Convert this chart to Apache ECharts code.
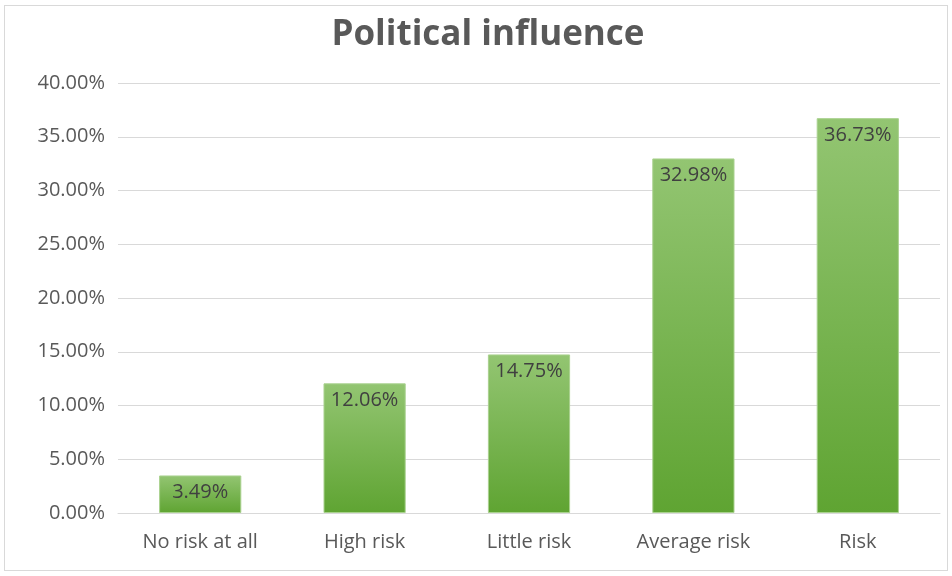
<!DOCTYPE html>
<html><head><meta charset="utf-8">
<script src="https://cdn.jsdelivr.net/npm/echarts@6/dist/echarts.min.js"></script>
<style>html,body{margin:0;padding:0;background:#fff}#c{width:952px;height:576px}
#frame{position:absolute;left:4px;top:5px;width:944px;height:566px;border:1px solid #d9d9d9;box-sizing:border-box;pointer-events:none}</style>
</head><body><div id="c"></div><div id="frame"></div>
<script>
const titleText = "Political influence";
const categories = ["No risk at all", "High risk", "Little risk", "Average risk", "Risk"];
const values = [3.49, 12.06, 14.75, 32.98, 36.73];
const yMin = 0, yMax = 40, yStep = 5;

const chart = echarts.init(document.getElementById('c'), null, {renderer: 'canvas'});
chart.setOption({
  animation: false,
  backgroundColor: '#ffffff',
  title: {
    text: titleText, left: 483, top: 13, textAlign: 'center',
    textStyle: {fontFamily: 'Open Sans', fontWeight: 'bold', fontSize: 35, color: '#595959'}
  },
  grid: {left: 118, right: 12, top: 83, bottom: 63},
  xAxis: {
    type: 'category', data: categories,
    axisLine: {show: true, lineStyle: {color: '#d9d9d9', width: 1}},
    axisTick: {show: false},
    axisLabel: {color: '#595959', fontFamily: 'Open Sans', fontSize: 20, margin: 19}
  },
  yAxis: {
    type: 'value', min: yMin, max: yMax, interval: yStep,
    axisLine: {show: false}, axisTick: {show: false},
    splitLine: {lineStyle: {color: '#d9d9d9', width: 1}},
    axisLabel: {color: '#595959', fontFamily: 'Open Sans', fontSize: 20, margin: 13,
      formatter: v => v.toFixed(2) + '%'}
  },
  series: [{
    type: 'bar', data: values, barWidth: '50%',
    itemStyle: {
      color: new echarts.graphic.LinearGradient(0, 0, 0, 1, [
        {offset: 0, color: '#93c572'}, {offset: 1, color: '#5fa432'}
      ]),
      borderColor: '#a9d18e', borderWidth: 1
    },
    label: {show: true, position: 'insideTop', distance: 7, color: '#404040',
      fontFamily: 'Open Sans', fontSize: 20, formatter: p => p.value.toFixed(2) + '%'}
  }]
});
</script></body></html>
